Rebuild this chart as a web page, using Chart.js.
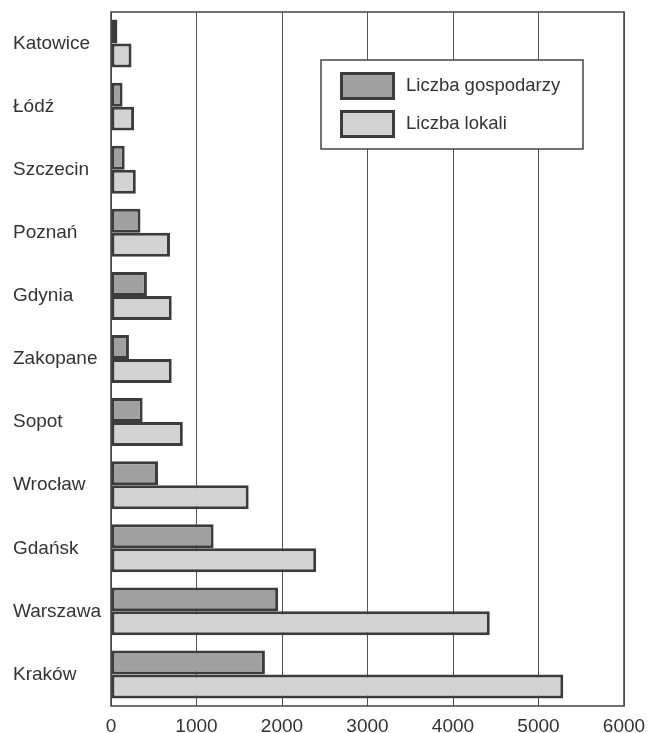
<!DOCTYPE html>
<html>
<head>
<meta charset="utf-8">
<script src="https://cdn.jsdelivr.net/npm/chart.js@4.4.1/dist/chart.umd.min.js"></script>
<style>
  html, body { margin: 0; padding: 0; background: #ffffff; }
  #wrap { width: 650px; height: 733px; }
</style>
</head>
<body>
<div id="wrap"><canvas id="c" width="650" height="733"></canvas></div>
<script>
const categories = ["Katowice", "Łódź", "Szczecin", "Poznań", "Gdynia", "Zakopane", "Sopot", "Wrocław", "Gdańsk", "Warszawa", "Kraków"];
const seriesNames = ["Liczba gospodarzy", "Liczba lokali"];
const hosts = [75, 135, 160, 345, 420, 210, 370, 550, 1200, 1955, 1800];
const venues = [240, 270, 290, 690, 710, 710, 840, 1610, 2400, 4430, 5290];
const xTicks = [0, 1000, 2000, 3000, 4000, 5000, 6000];

const FONT = "'Liberation Sans', Arial, sans-serif";
const TEXT = "#333333";
const EDGE = "#3c3c3c";

const framePlugin = {
  id: 'plotFrame',
  beforeDatasetsDraw(chart) {
    const a = chart.chartArea, ctx = chart.ctx;
    ctx.save();
    ctx.strokeStyle = "#444444";
    ctx.lineWidth = 1.5;
    ctx.strokeRect(a.left, a.top, a.right - a.left, a.bottom - a.top);
    ctx.restore();
  }
};

const legendPlugin = {
  id: 'boxLegend',
  afterDraw(chart) {
    const ctx = chart.ctx, a = chart.chartArea;
    const fx = a.left + 210, fy = a.top + 48, fw = 262, fh = 89;
    ctx.save();
    ctx.fillStyle = "#ffffff";
    ctx.fillRect(fx, fy, fw, fh);
    ctx.strokeStyle = "#444444";
    ctx.lineWidth = 1.5;
    ctx.strokeRect(fx, fy, fw, fh);
    chart.data.datasets.forEach((ds, i) => {
      const by = fy + 12 + i * 38;
      ctx.fillStyle = ds.backgroundColor;
      ctx.fillRect(fx + 19, by, 55, 28);
      ctx.strokeStyle = EDGE;
      ctx.lineWidth = 3;
      ctx.strokeRect(fx + 20.5, by + 1.5, 52, 25);
      ctx.fillStyle = TEXT;
      ctx.font = "18.5px " + FONT;
      ctx.textBaseline = "middle";
      ctx.textAlign = "left";
      ctx.fillText(ds.label, fx + 85, by + 14);
    });
    ctx.restore();
  }
};

new Chart(document.getElementById('c'), {
  type: 'bar',
  data: {
    labels: categories,
    datasets: [
      { label: seriesNames[0], data: hosts, backgroundColor: "#a0a0a0", borderColor: EDGE, borderWidth: 3, borderSkipped: false },
      { label: seriesNames[1], data: venues, backgroundColor: "#d3d3d3", borderColor: EDGE, borderWidth: 3, borderSkipped: false }
    ]
  },
  options: {
    indexAxis: 'y',
    responsive: false,
    animation: false,
    devicePixelRatio: 1,
    layout: { padding: { left: 13, top: 12, right: 26, bottom: 0 } },
    datasets: { bar: { categoryPercentage: 0.76, barPercentage: 1.0 } },
    plugins: { legend: { display: false }, tooltip: { enabled: false } },
    scales: {
      x: {
        min: 0, max: 6000,
        afterBuildTicks(scale) { scale.ticks = xTicks.map(v => ({ value: v })); },
        afterFit(scale) { scale.height = 27; scale.paddingLeft = 0; scale.paddingRight = 0; },
        grid: { color: "#555555", lineWidth: 1, drawTicks: false },
        border: { display: false },
        ticks: { color: TEXT, font: { family: FONT, size: 19 }, padding: 9, maxRotation: 0, callback: v => String(v) }
      },
      y: {
        afterFit(scale) { scale.width = 98; scale.paddingTop = 0; scale.paddingBottom = 0; },
        grid: { display: false, drawTicks: false },
        border: { display: false },
        ticks: { color: TEXT, font: { family: FONT, size: 19 }, crossAlign: 'far', padding: 6 }
      }
    }
  },
  plugins: [framePlugin, legendPlugin]
});
</script>
</body>
</html>
